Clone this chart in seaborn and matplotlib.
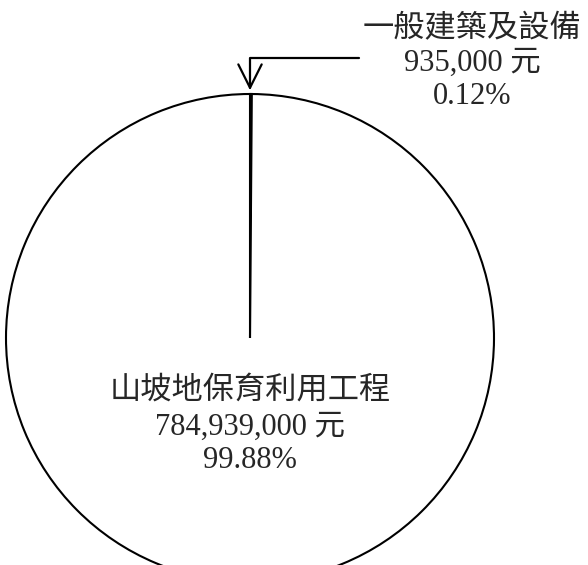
import numpy as np
import matplotlib
matplotlib.use("Agg")
import matplotlib.pyplot as plt
import seaborn as sns

# data
categories = ['一般建築及設備', '山坡地保育利用工程']
amounts = [935000, 784939000]
percents = ['0.12%', '99.88%']

sns.set_theme(style="white")
plt.rcParams['font.family'] = ['Liberation Serif', 'Noto Sans CJK TC', 'DejaVu Sans']

W, H = 588, 565
fig = plt.figure(figsize=(W / 100, H / 100), dpi=100)
ax = fig.add_axes([0, 0, 1, 1])
ax.axis('off')

# pie geometry (pixel space, y up)
cx, cy, r = 250, H - 338, 244

wedges, _ = ax.pie(amounts, center=(cx, cy), radius=r, startangle=90,
                   counterclock=False, colors=['white', 'white'],
                   wedgeprops=dict(edgecolor='black', linewidth=1.5))
ax.set_xlim(0, W)
ax.set_ylim(0, H)
ax.set_aspect('equal')

fs = 22
cjk_fs = 22.5
# small slice label with elbow arrow
top = (cx, cy + r)
ax.annotate('', xy=(top[0], top[1] + 1), xytext=(362, H - 58),
            arrowprops=dict(arrowstyle='->,head_length=0.6,head_width=0.3',
                            color='black', lw=1.6, mutation_scale=28,
                            connectionstyle='angle,angleA=180,angleB=90,rad=0'))
ax.text(472, H - 30, categories[0], ha='center', va='center',
        fontsize=cjk_fs, fontweight='light')
ax.text(472, H - 63, f'{amounts[0]:,} 元', ha='center', va='center', fontsize=fs)
ax.text(472, H - 97, percents[0], ha='center', va='center', fontsize=fs)

# big slice label
ax.text(cx, H - 392, categories[1], ha='center', va='center',
        fontsize=cjk_fs, fontweight='light')
ax.text(cx, H - 427, f'{amounts[1]:,} 元', ha='center', va='center', fontsize=fs)
ax.text(cx, H - 461, percents[1], ha='center', va='center', fontsize=fs)

fig.savefig('out.png', dpi=100, facecolor='white')
